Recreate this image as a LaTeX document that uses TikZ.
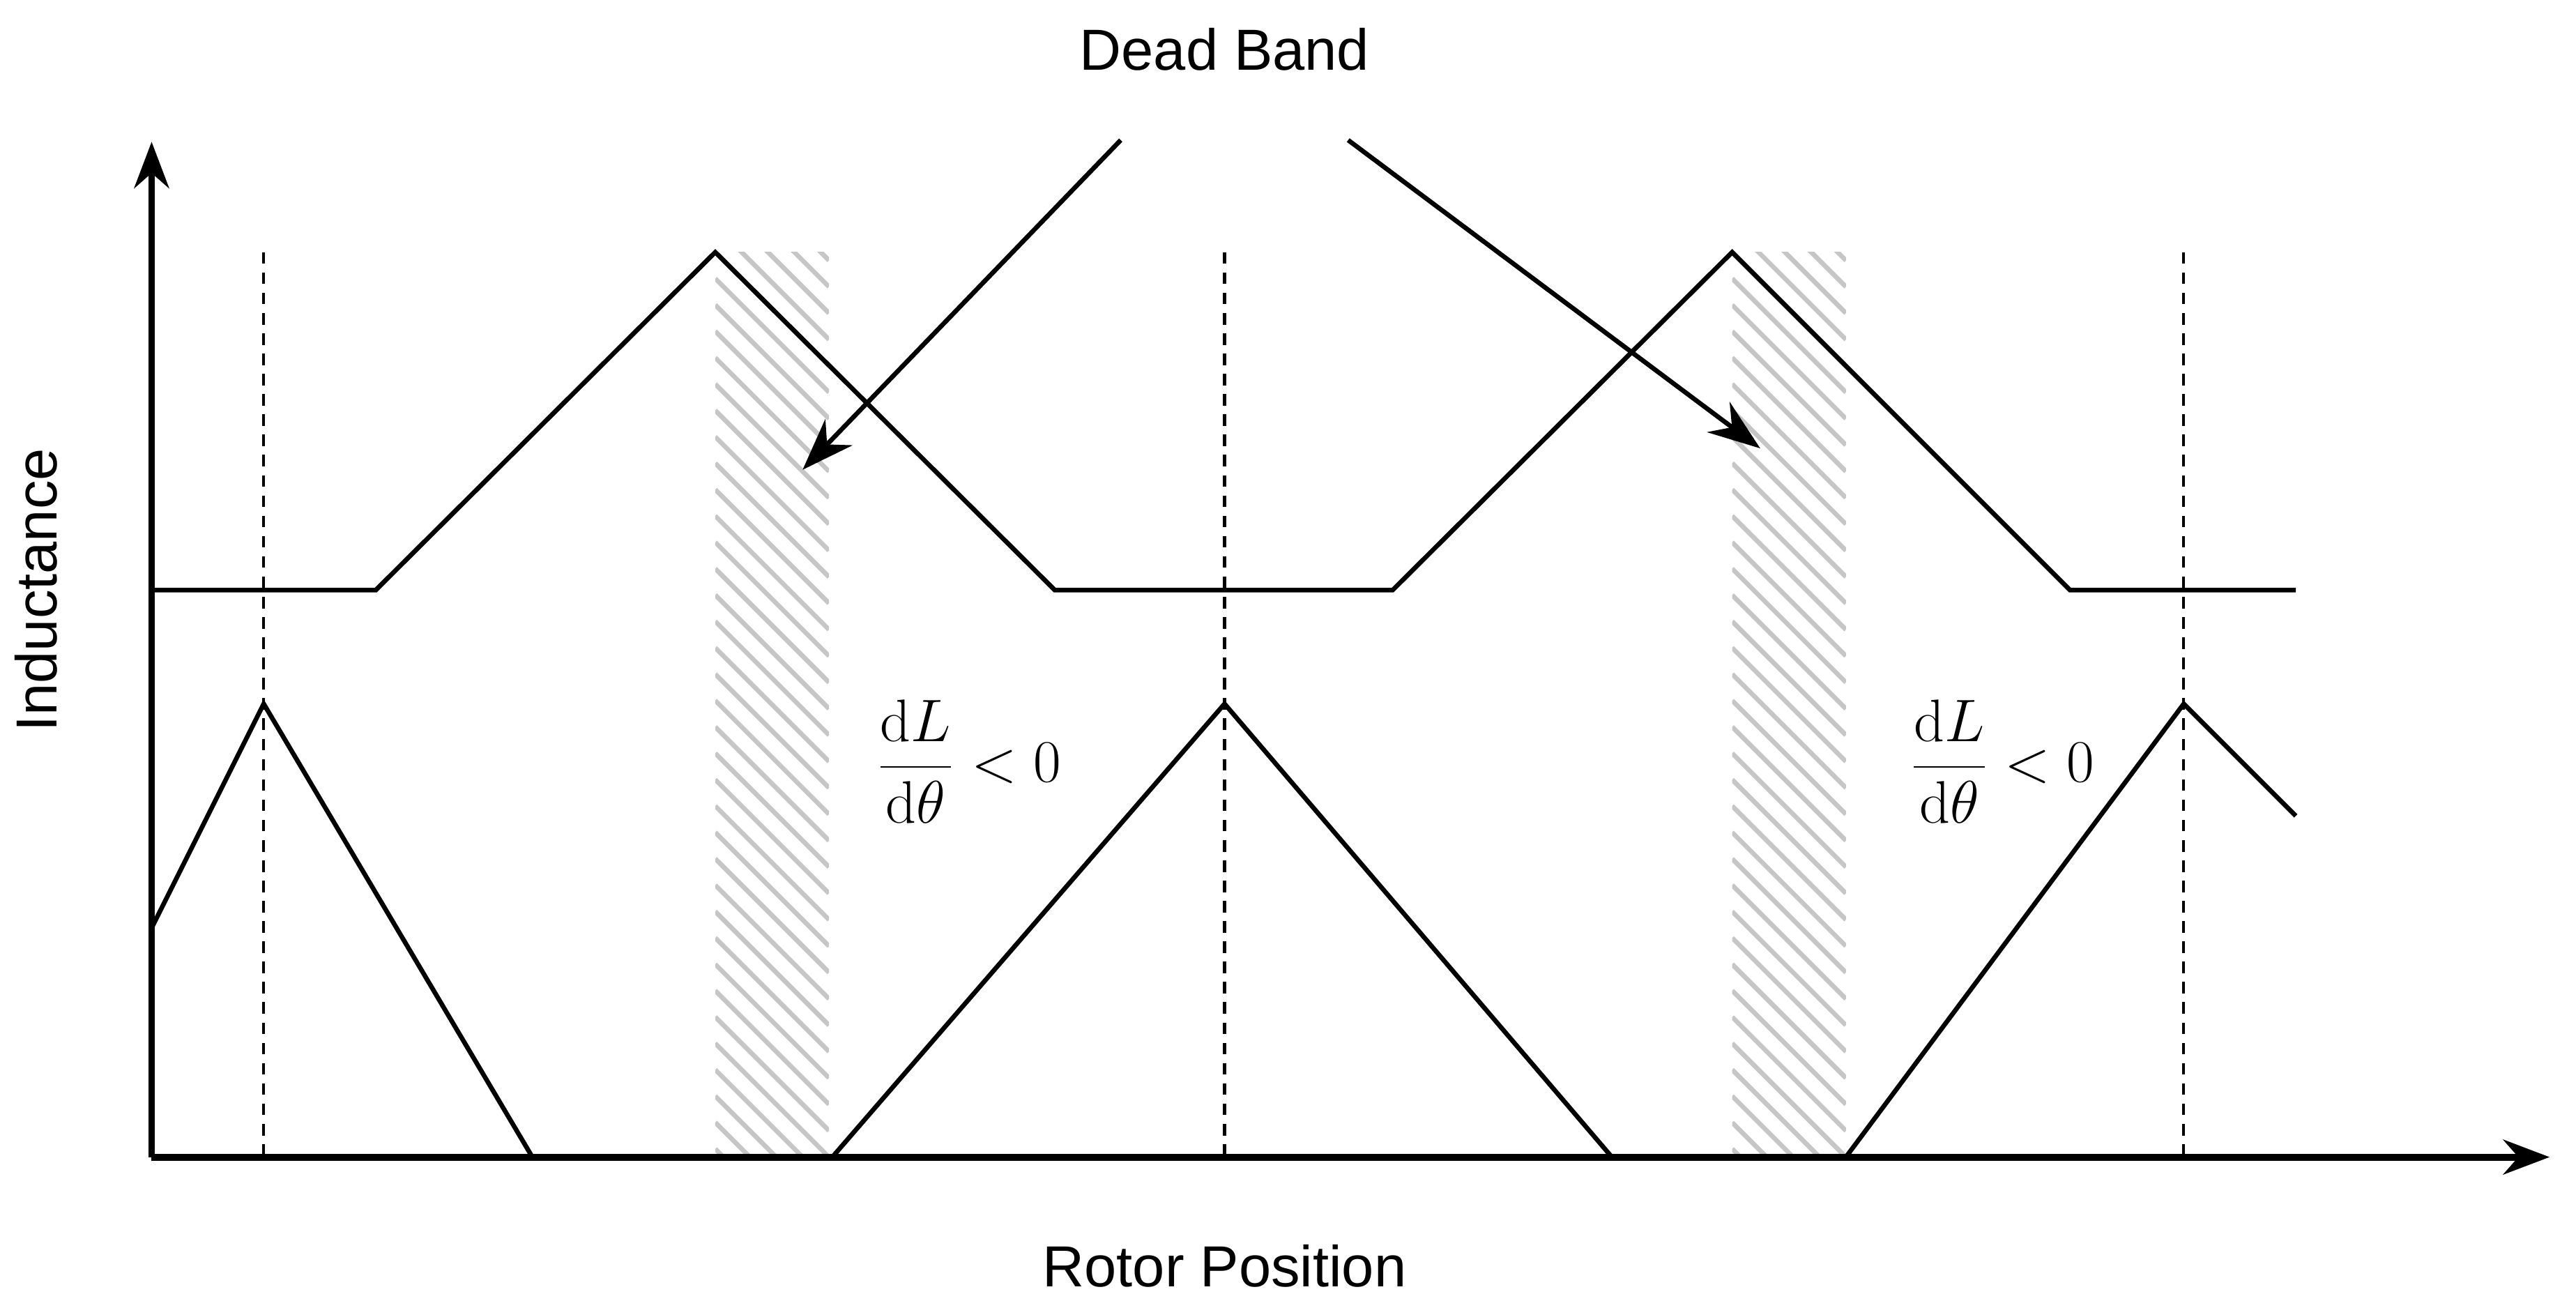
\documentclass[tikz,border=0pt]{standalone}
\usepackage[no-math]{fontspec}
\setmainfont{Liberation Sans}
\usetikzlibrary{arrows.meta}
\begin{document}
\begin{tikzpicture}[x=0.02cm,y=-0.02cm,
  curve/.style={line width=1.6pt,line join=miter},
  axis/.style={line width=2.4pt,-{Stealth[length=16pt,width=12pt]}},
  vdash/.style={line width=1pt,dash pattern=on 4pt off 3pt},
  hatch/.style={line width=1.6pt,gray!45},
  ptr/.style={line width=1.6pt,-{Stealth[length=18pt,width=13pt]}},
  lab/.style={font=\fontsize{20}{24}\selectfont},
  frac/.style={font=\fontsize{22}{26}\selectfont}]
\useasboundingbox (0,0) rectangle (1563,789);
% hatching
\foreach \x in {434,1051}{
  \begin{scope}
    \clip (\x,153) rectangle (\x+69,702);
    \foreach \i in {-80,-64,...,560}
      \draw[hatch] (\x,153+\i) -- (\x+69,222+\i);
  \end{scope}}
% dashed lines
\foreach \x in {160,743,1325}
  \draw[vdash] (\x,153) -- (\x,702);
% curves
\draw[curve] (92,358) -- (228,358) -- (434,153) -- (640,358) -- (845,358) -- (1051,153) -- (1256,358) -- (1393,358);
\draw[curve] (92,563) -- (160,427) -- (323,702);
\draw[curve] (505,702) -- (743,427) -- (978,702);
\draw[curve] (1120,702) -- (1325,427) -- (1393,495);
% axes
\coordinate (o) at (92,702);
\coordinate (ytop) at (92,86);
\coordinate (xend) at (1547,702);
\draw[axis] (o) -- (ytop);
\draw[axis] (o) -- (xend);
% labels
\node[lab] (db) at (743,30) {Dead Band};
\node[lab] (rp) at (743,768) {Rotor Position};
\node[lab,rotate=90] (ind) at (22,358) {Inductance};
\node[frac] (f1) at (588,462) {$\displaystyle\frac{\mathrm{d}L}{\mathrm{d}\theta}<0$};
\node[frac] (f2) at (1215,462) {$\displaystyle\frac{\mathrm{d}L}{\mathrm{d}\theta}<0$};
% pointers
\coordinate (a1s) at (680,85); \coordinate (a1e) at (487,285);
\coordinate (a2s) at (818,85); \coordinate (a2e) at (1068,272);
\draw[ptr] (a1s) -- (a1e);
\draw[ptr] (a2s) -- (a2e);
\end{tikzpicture}
\end{document}
